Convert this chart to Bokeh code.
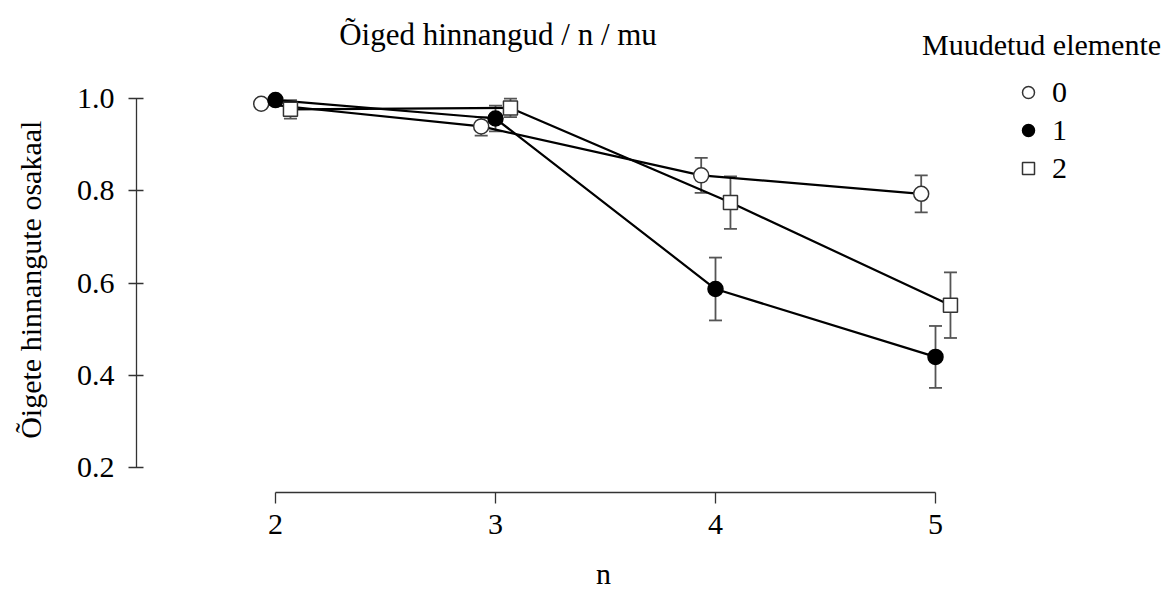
import math
from bokeh.plotting import figure
from bokeh.models import (Range1d, FixedTicker, Whisker, ColumnDataSource, Legend,
                          LegendItem, Label, TeeHead)
from bokeh.embed import file_html
from bokeh.resources import INLINE

# ---------------- data ----------------
n_values = [2, 3, 4, 5]
x_tick_labels = ["2", "3", "4", "5"]
series_labels = ["0", "1", "2"]
mean_0 = [0.988, 0.939, 0.833, 0.793]
err_0 = [0.008, 0.020, 0.038, 0.040]
mean_1 = [0.996, 0.956, 0.587, 0.440]
err_1 = [0.006, 0.028, 0.068, 0.067]
mean_2 = [0.976, 0.979, 0.774, 0.552]
err_2 = [0.020, 0.020, 0.057, 0.071]
y_ticks = [0.2, 0.4, 0.6, 0.8, 1.0]
y_tick_labels = ["0.2", "0.4", "0.6", "0.8", "1.0"]
title_text = "Õiged hinnangud / n / mu"
x_label = "n"
y_label = "Õigete hinnangute osakaal"
legend_title = "Muudetud elemente"

# ---------------- style / layout ----------------
FONT = "Liberation Serif"
FS = "30px"
AX = "#333333"
ERR = "#555555"
dodge = [-0.065, 0.0, 0.068]
markers = ["circle", "circle", "square"]
fills = ["white", "black", "white"]
outlines = ["#333333", "black", "#333333"]
sizes = [15, 15, 14]

# the plotting frame covers the whole canvas; axes are pinned inside it
X_START, X_END = 0.75, 6.0409
Y_START, Y_END = -0.07424, 1.21147
X_AXIS_AT = 0.14654
Y_AXIS_AT = 1.36818

p = figure(width=1164, height=594, output_backend="svg", toolbar_location=None,
           x_range=Range1d(X_START, X_END), y_range=Range1d(Y_START, Y_END),
           min_border=0, min_border_left=0, min_border_right=0,
           min_border_top=0, min_border_bottom=0)
p.outline_line_color = None
p.xgrid.visible = False
p.ygrid.visible = False
p.background_fill_color = "white"
p.border_fill_color = "white"

means = [mean_0, mean_1, mean_2]
errs = [err_0, err_1, err_2]
srcs = []
for i in range(3):
    xs = [n + dodge[i] for n in n_values]
    src = ColumnDataSource(dict(
        x=xs, y=means[i],
        upper=[m + e for m, e in zip(means[i], errs[i])],
        lower=[m - e for m, e in zip(means[i], errs[i])]))
    w = Whisker(base="x", upper="upper", lower="lower", source=src,
                line_color=ERR, line_width=1.8, level="underlay",
                upper_head=TeeHead(size=13, line_color=ERR, line_width=1.8),
                lower_head=TeeHead(size=13, line_color=ERR, line_width=1.8))
    p.add_layout(w)
    p.line("x", "y", source=src, line_color="black", line_width=2.2)
    srcs.append(src)

rs = []
for i, src in enumerate(srcs):
    r = p.scatter("x", "y", source=src, marker=markers[i], size=sizes[i],
                  fill_color=fills[i], line_color=outlines[i], line_width=1.5)
    rs.append(r)

# axes (pinned at fixed data locations)
xa = p.xaxis[0]
xa.fixed_location = X_AXIS_AT
xa.ticker = FixedTicker(ticks=n_values)
xa.bounds = (min(n_values), max(n_values))
xa.major_label_overrides = {k: v for k, v in zip(n_values, x_tick_labels)}
xa.major_tick_out = 11
xa.major_tick_in = 0
xa.minor_tick_line_color = None
xa.major_label_standoff = 12

ya = p.yaxis[0]
ya.fixed_location = Y_AXIS_AT
ya.ticker = FixedTicker(ticks=y_ticks)
ya.bounds = (min(y_ticks), max(y_ticks))
ya.major_label_overrides = {k: v for k, v in zip(y_ticks, y_tick_labels)}
ya.major_tick_out = 8
ya.major_tick_in = 7
ya.minor_tick_line_color = None
ya.major_label_standoff = 14

for ax in (xa, ya):
    ax.axis_line_color = AX
    ax.axis_line_width = 1.3
    ax.major_tick_line_color = AX
    ax.major_tick_line_width = 1.3
    ax.major_label_text_font = FONT
    ax.major_label_text_font_size = FS
    ax.major_label_text_color = "black"

# texts: title, axis titles, legend title
def add_text(x, y, text, size=FS, angle=0.0):
    p.add_layout(Label(x=x, y=y, text=text, text_align="center",
                       text_baseline="alphabetic", text_font=FONT,
                       text_font_size=size, text_color="black", angle=angle))

add_text(3.0114, 1.1372, title_text, size="31px")
add_text(3.4914, -0.0295, x_label)
add_text(0.8886, 0.6071, y_label, angle=math.pi / 2)
add_text(5.482, 1.1163, legend_title)

# legend
legend = Legend(items=[LegendItem(label=lbl, renderers=[r]) for lbl, r in zip(series_labels, rs)],
                location=(1013, 408),
                label_text_font=FONT, label_text_font_size=FS, label_text_color="black",
                glyph_width=30, glyph_height=36, label_height=36,
                label_standoff=9, spacing=2, padding=0, margin=0,
                border_line_color=None, background_fill_alpha=0)
p.add_layout(legend)

open("out.html", "w").write(file_html(p, INLINE))
